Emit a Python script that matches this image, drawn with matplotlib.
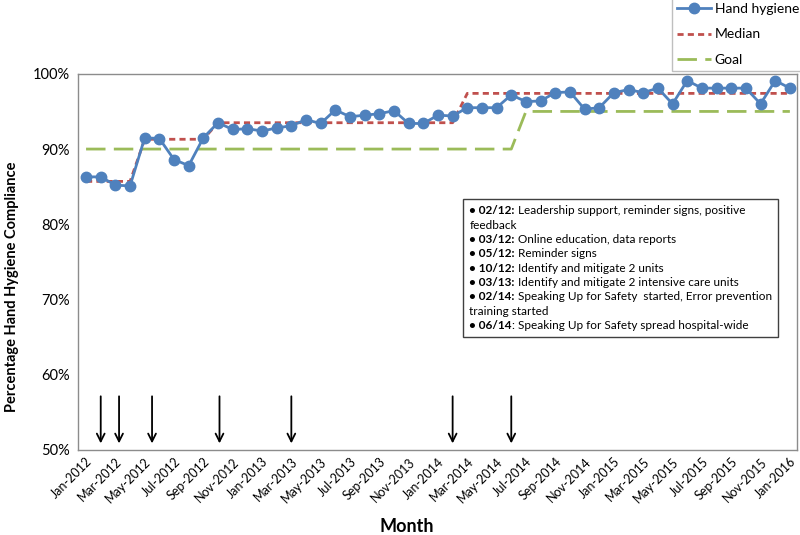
import numpy as np
import matplotlib.pyplot as plt
from matplotlib.lines import Line2D
from matplotlib.offsetbox import TextArea, HPacker, VPacker, AnchoredOffsetbox

plt.rcParams['font.family'] = ['Lato', 'DejaVu Sans']

# Monthly data, Jan-2012 .. Jan-2016
years = [2012, 2013, 2014, 2015]
month_names = ['Jan', 'Feb', 'Mar', 'Apr', 'May', 'Jun',
               'Jul', 'Aug', 'Sep', 'Oct', 'Nov', 'Dec']
months = [f'{m}-{y}' for y in years for m in month_names] + ['Jan-2016']

hand_hygiene = [86.3, 86.3, 85.2, 85.1, 91.5, 91.4, 88.6, 87.8, 91.5, 93.5,
                92.6, 92.7, 92.4, 92.8, 93.1, 93.9, 93.4, 95.2, 94.3, 94.5,
                94.7, 95.1, 93.4, 93.4, 94.5, 94.4, 95.5, 95.5, 95.5, 97.2,
                96.3, 96.4, 97.5, 97.6, 95.3, 95.5, 97.5, 97.9, 97.5, 98.1,
                96.0, 99.1, 98.1, 98.1, 98.1, 98.1, 96.0, 99.1, 98.1]

median = [85.7] * 4 + [91.3] * 5 + [93.5] * 17 + [97.4] * 23
goal = [90.0] * 30 + [95.0] * 19

# intervention arrows (month offset from Jan-2012)
arrow_months = [1, 2.25, 4.5, 9.1, 14, 25, 29]

notes = [
    ('02/12:', ' Leadership support, reminder signs, positive'),
    ('', 'feedback'),
    ('03/12:', ' Online education, data reports'),
    ('05/12:', ' Reminder signs'),
    ('10/12:', ' Identify and mitigate 2 units'),
    ('03/13:', ' Identify and mitigate 2 intensive care units'),
    ('02/14:', ' Speaking Up for Safety  started, Error prevention'),
    ('', 'training started'),
    ('06/14', ': Speaking Up for Safety spread hospital-wide'),
]

blue = '#4F81BD'
red = '#C0504D'
green = '#9BBB59'

x = np.arange(len(months))

fig = plt.figure(figsize=(8, 5.35), dpi=100)
ax = fig.add_axes([0.0975, 0.159, 0.899, 0.703])

ax.plot(x, hand_hygiene, color=blue, lw=2, marker='o', ms=7.5,
        label='Hand hygiene', zorder=3)
ax.plot(x, median, color=red, lw=2, ls=(0, (2.2, 1.5)), label='Median', zorder=2)
ax.plot(x, goal, color=green, lw=2, ls=(0, (7, 3)), label='Goal', zorder=1)

for m in arrow_months:
    ax.annotate('', xy=(m, 50.5), xytext=(m, 57.5),
                arrowprops=dict(arrowstyle='->', color='black', lw=1.3,
                                mutation_scale=14))

ax.set_xlim(-0.55, 48.5)
ax.set_ylim(50, 100)
ax.set_yticks(np.arange(50, 101, 10))
ax.set_yticklabels([f'{v}%' for v in range(50, 101, 10)], fontsize=10.5)
ax.set_xticks(x[::2])
ax.set_xticklabels(months[::2], rotation=45, ha='right', va='top',
                   rotation_mode='anchor', fontsize=9)
ax.tick_params(axis='both', length=0, pad=6)
ax.tick_params(axis='x', pad=4)
for s in ax.spines.values():
    s.set_color('#8c8c8c')
    s.set_linewidth(1)

fig.text(0.015, 1 - 287 / 535, 'Percentage Hand Hygiene Compliance',
         rotation=90, ha='center', va='center', fontsize=10.5, fontweight='bold')
fig.text(407 / 800, 1 - 527 / 535, 'Month', ha='center', va='center',
         fontsize=13, fontweight='bold')

handles = [Line2D([], [], color=blue, lw=2, marker='o', ms=7.5),
           Line2D([], [], color=red, lw=2, ls=(0, (2.2, 1.5))),
           Line2D([], [], color=green, lw=2, ls=(0, (7, 3)))]
fig.legend(handles, ['Hand hygiene', 'Median', 'Goal'],
           loc='upper right', bbox_to_anchor=(1.005, 1.003), fontsize=10,
           fancybox=False, edgecolor='#bfbfbf', framealpha=1,
           handlelength=2.4, handletextpad=0.3, borderpad=0.35,
           labelspacing=0.95, borderaxespad=0)

rows = []
for b, t in notes:
    parts = []
    if b:
        parts.append(TextArea('\u2022 ' + b, textprops=dict(fontsize=8.5, fontweight='bold')))
    parts.append(TextArea(t, textprops=dict(fontsize=8.5)))
    rows.append(HPacker(children=parts, pad=0, sep=0, align='baseline'))
box = VPacker(children=rows, pad=0, sep=2.4, align='left')
anch = AnchoredOffsetbox(loc='upper left', child=box, pad=0.45, borderpad=0,
                         frameon=True, bbox_to_anchor=(463 / 800, 1 - 199 / 535),
                         bbox_transform=fig.transFigure)
anch.patch.set_edgecolor('#404040')
anch.patch.set_linewidth(1)
ax.add_artist(anch)

fig.savefig('out.png', dpi=100)
